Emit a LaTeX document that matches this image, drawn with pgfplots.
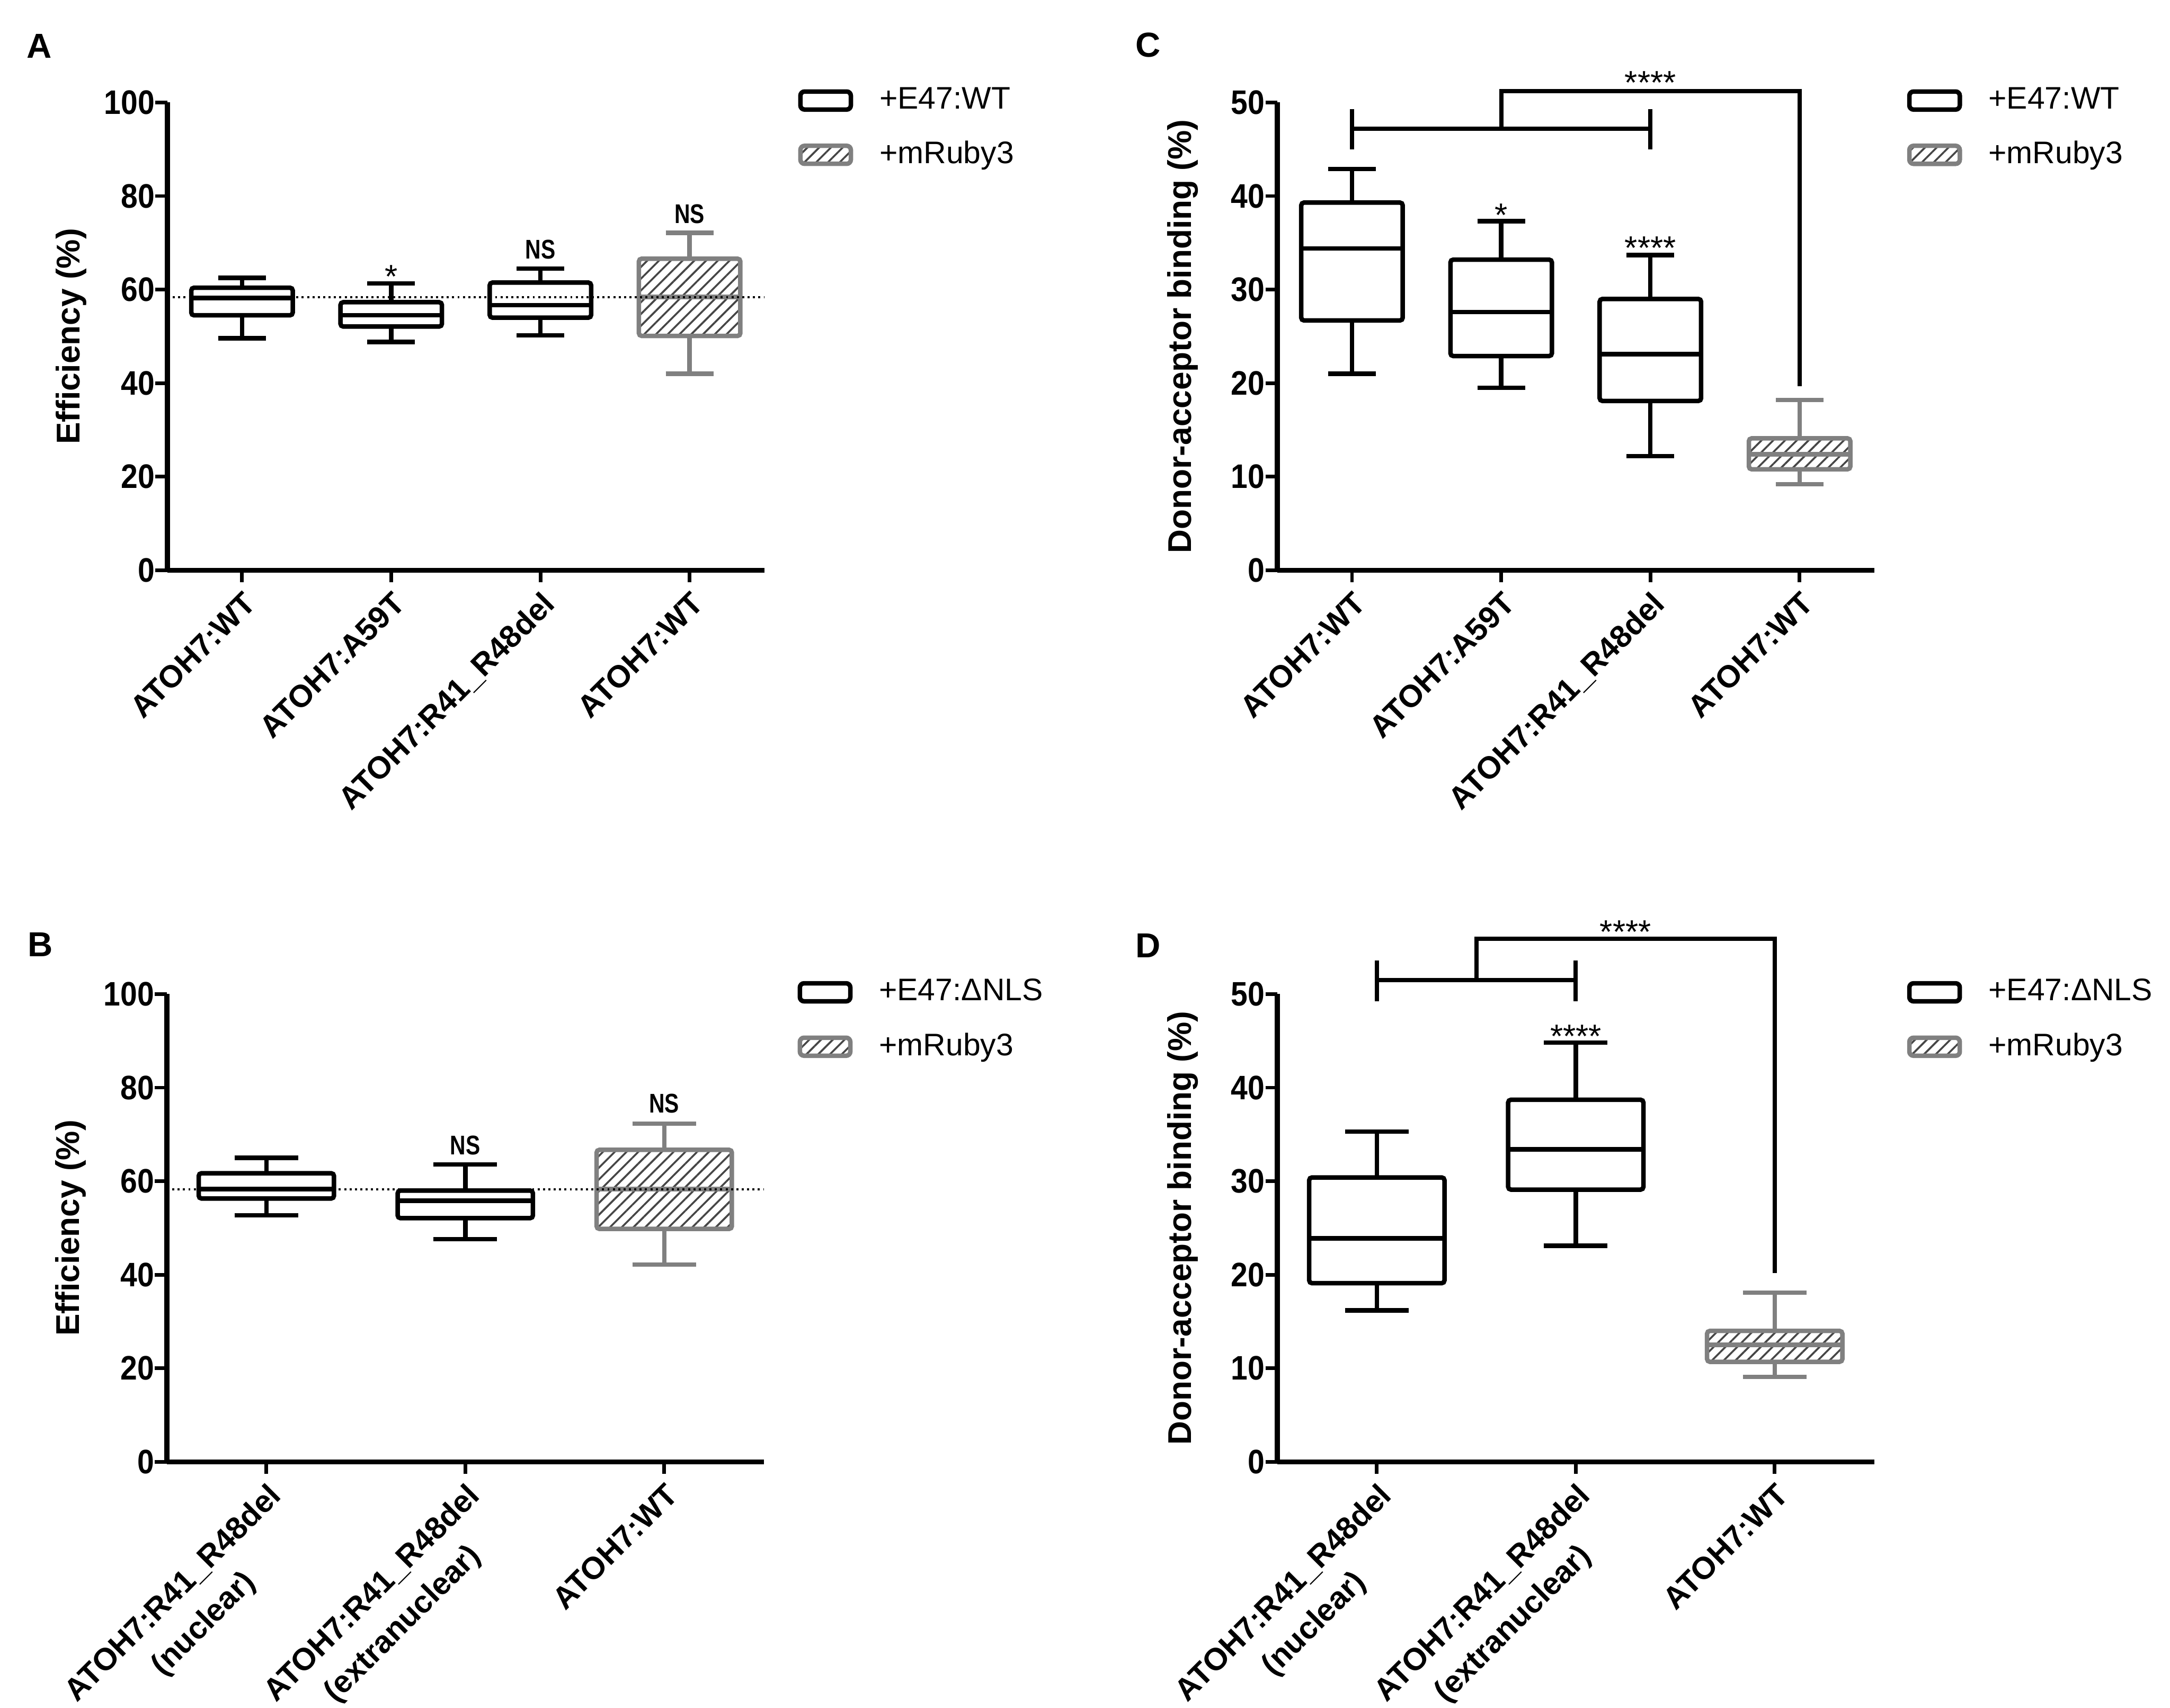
\documentclass[border=0pt]{standalone}
\usepackage{fontspec}
\setmainfont{Liberation Sans}
\newfontfamily\tickfont{Liberation Sans}[FakeStretch=0.89]
\newfontfamily\nsfont{Liberation Sans}[FakeStretch=0.8]
\usepackage{pgfplots}
\pgfplotsset{compat=1.18}
\usetikzlibrary{patterns.meta}
\definecolor{boxgray}{RGB}{128,128,128}
\definecolor{hatchgray}{RGB}{70,70,70}
\tikzset{hatch/.style={pattern={Lines[angle=45,distance=2.4pt,line width=0.55pt]}, pattern color=hatchgray}}
\pgfplotsset{
  panel/.style={
    scale only axis, width=172.2pt, height=135pt,
    axis x line*=bottom, axis y line*=left,
    axis line style={line width=1.5pt, black},
    tick style={black, line width=1.05pt},
    major tick length=3.45pt,
    tick align=outside,
    clip=false,
    /pgf/number format/assume math mode=true,
    yticklabel style={font=\tickfont\bfseries\fontsize{9.8}{11}\selectfont, inner sep=0pt, anchor=east},
    xticklabel style={font=\bfseries\fontsize{9}{12.3}\selectfont, rotate=45, anchor=north east, inner sep=0pt, align=center},
    xticklabel shift=2pt,
    ymin=0,
    legend style={draw=none, fill=none, font=\fontsize{9}{11}\selectfont, anchor=north west, column sep=7.65pt, row sep=7.8pt, inner sep=0pt, nodes={inner sep=0pt}},
    legend cell align=left,
    ylabel style={font=\bfseries\fontsize{9.5}{11}\selectfont, anchor=center},
  },
  bx/.style={forget plot, black, line width=1.3pt, mark=none, solid},
  bxfill/.style={rounded corners=0.8pt},
  gx/.style={forget plot, boxgray, line width=1.3pt, mark=none, solid},
  gxfill/.style={rounded corners=0.8pt, hatch},
  blackleg/.style={legend image code/.code={\draw[black, line width=1.3pt, rounded corners=1.2pt] (0pt,-2.6pt) rectangle (14.55pt,2.6pt);}},
  grayleg/.style={legend image code/.code={\draw[boxgray, line width=1.3pt, rounded corners=1.2pt, hatch] (0pt,-2.6pt) rectangle (14.55pt,2.6pt);}},
  refline/.style={forget plot, black, line width=0.6pt, dash pattern=on 0.6pt off 0.95pt},
}
% box-and-whisker from plain numbers: #1 style, #2 category index, #3 lower whisker, #4 Q1, #5 median, #6 Q3, #7 upper whisker
\newcommand{\boxat}[7]{%
  \ifcase#2\relax
    \def\bxC{0}\def\bxL{-0.34}\def\bxR{0.34}\def\bcL{-0.16}\def\bcR{0.16}%
  \or \def\bxC{1}\def\bxL{0.66}\def\bxR{1.34}\def\bcL{0.84}\def\bcR{1.16}%
  \or \def\bxC{2}\def\bxL{1.66}\def\bxR{2.34}\def\bcL{1.84}\def\bcR{2.16}%
  \or \def\bxC{3}\def\bxL{2.66}\def\bxR{3.34}\def\bcL{2.84}\def\bcR{3.16}%
  \fi
  \edef\bxdoit{%
    \noexpand\addplot[#1, #1fill] coordinates {(\bxL,#4) (\bxR,#4) (\bxR,#6) (\bxL,#6)} -- cycle;
    \noexpand\addplot[#1] coordinates {(\bxL,#5) (\bxR,#5)};
    \noexpand\addplot[#1] coordinates {(\bxC,#6) (\bxC,#7)};
    \noexpand\addplot[#1] coordinates {(\bcL,#7) (\bcR,#7)};
    \noexpand\addplot[#1] coordinates {(\bxC,#4) (\bxC,#3)};
    \noexpand\addplot[#1] coordinates {(\bcL,#3) (\bcR,#3)};
  }\bxdoit}
\tikzset{
  ann/.style={anchor=base, inner sep=0pt, font=\fontsize{9.5}{10}\selectfont},
  ns/.style={anchor=center, inner sep=0pt, font=\nsfont\bfseries\fontsize{7.8}{9}\selectfont},
  brk/.style={line width=1.2pt, black},
  plabel/.style={font=\bfseries\fontsize{10}{12}\selectfont, inner sep=0pt},
}
\begin{document}
\begin{tikzpicture}
\path[use as bounding box] (0,0) rectangle (626.1pt,-492.75pt);
\node[plabel] at (11.4pt,-13.35pt) {A};
\node[plabel] at (331.2pt,-13.05pt) {C};
\node[plabel] at (11.7pt,-272.55pt) {B};
\node[plabel] at (331.2pt,-272.85pt) {D};

% ---------------- Panel A ----------------
\begin{axis}[panel, at={(48.3pt,-164.55pt)}, anchor=south west,
  xmin=-0.5, xmax=3.5, ymax=100, ytick={0,20,40,60,80,100},
  xtick={0,1,2,3}, xticklabels={ATOH7:WT, ATOH7:A59T, ATOH7:R41\_R48del, ATOH7:WT},
  ylabel={Efficiency (\%)}, ylabel style={at={(axis description cs:-0.1611,0.5)}},
  legend style={at={(axis description cs:1.0557,1.034)}}]
\addlegendimage{blackleg}\addlegendentry{+E47:WT}
\addlegendimage{grayleg}\addlegendentry{+mRuby3}
\boxat{bx}{0}{49.6}{54.5}{58.2}{60.4}{62.5}
\boxat{bx}{1}{48.8}{52.1}{54.5}{57.3}{61.3}
\boxat{bx}{2}{50.2}{54.0}{56.7}{61.5}{64.5}
\boxat{gx}{3}{42.0}{50.1}{58.4}{66.6}{72.1}
\addplot[refline] coordinates {(-0.5,58.4) (3.5,58.4)};
\node[ann] at (axis cs:1,60.3) {*};
\node[ns] at (axis cs:2,68.6) {NS};
\node[ns] at (axis cs:3,76.1) {NS};
\end{axis}

% ---------------- Panel C ----------------
\begin{axis}[panel, at={(368.55pt,-164.55pt)}, anchor=south west,
  xmin=-0.5, xmax=3.5, ymax=50, ytick={0,10,20,30,40,50},
  xtick={0,1,2,3}, xticklabels={ATOH7:WT, ATOH7:A59T, ATOH7:R41\_R48del, ATOH7:WT},
  ylabel={Donor-acceptor binding (\%)}, ylabel style={at={(axis description cs:-0.1585,0.5)}},
  legend style={at={(axis description cs:1.054,1.034)}}]
\addlegendimage{blackleg}\addlegendentry{+E47:WT}
\addlegendimage{grayleg}\addlegendentry{+mRuby3}
\boxat{bx}{0}{21.0}{26.7}{34.4}{39.3}{42.9}
\boxat{bx}{1}{19.5}{22.9}{27.6}{33.2}{37.3}
\boxat{bx}{2}{12.2}{18.1}{23.1}{29.0}{33.7}
\boxat{gx}{3}{9.2}{10.8}{12.4}{14.1}{18.2}
\node[ann] at (axis cs:1,36.75) {*};
\node[ann] at (axis cs:2,33.25) {****};
\node[ann] at (axis cs:2,50.88) {****};
\draw[brk] (axis cs:0,45.0) -- (axis cs:0,49.3);
\draw[brk] (axis cs:2,45.0) -- (axis cs:2,49.3);
\draw[brk] (axis cs:0,47.2) -- (axis cs:2,47.2);
\draw[brk] (axis cs:1,47.2) -- (axis cs:1,51.2) -- (axis cs:3,51.2) -- (axis cs:3,19.7);
\end{axis}

% ---------------- Panel B ----------------
\begin{axis}[panel, at={(48.15pt,-421.8pt)}, anchor=south west,
  xmin=-0.5, xmax=2.5, ymax=100, ytick={0,20,40,60,80,100},
  xtick={0,1,2}, xticklabels={{ATOH7:R41\_R48del\\(nuclear)}, {ATOH7:R41\_R48del\\(extranuclear)}, ATOH7:WT},
  ylabel={Efficiency (\%)}, ylabel style={at={(axis description cs:-0.1611,0.5)}},
  legend style={at={(axis description cs:1.0557,1.034)}}]
\addlegendimage{blackleg}\addlegendentry{+E47:ΔNLS}
\addlegendimage{grayleg}\addlegendentry{+mRuby3}
\boxat{bx}{0}{52.7}{56.3}{58.3}{61.7}{65.0}
\boxat{bx}{1}{47.6}{52.1}{55.8}{58.0}{63.6}
\boxat{gx}{2}{42.2}{49.8}{58.3}{66.7}{72.3}
\addplot[refline] coordinates {(-0.5,58.3) (2.5,58.3)};
\node[ns] at (axis cs:1,67.7) {NS};
\node[ns] at (axis cs:2,76.6) {NS};
\end{axis}

% ---------------- Panel D ----------------
\begin{axis}[panel, at={(368.55pt,-421.8pt)}, anchor=south west,
  xmin=-0.5, xmax=2.5, ymax=50, ytick={0,10,20,30,40,50},
  xtick={0,1,2}, xticklabels={{ATOH7:R41\_R48del\\(nuclear)}, {ATOH7:R41\_R48del\\(extranuclear)}, ATOH7:WT},
  ylabel={Donor-acceptor binding (\%)}, ylabel style={at={(axis description cs:-0.1585,0.5)}},
  legend style={at={(axis description cs:1.054,1.034)}}]
\addlegendimage{blackleg}\addlegendentry{+E47:ΔNLS}
\addlegendimage{grayleg}\addlegendentry{+mRuby3}
\boxat{bx}{0}{16.2}{19.1}{23.9}{30.4}{35.3}
\boxat{bx}{1}{23.1}{29.1}{33.4}{38.7}{44.8}
\boxat{gx}{2}{9.1}{10.7}{12.5}{14.0}{18.1}
\node[ann] at (axis cs:1,44.3) {****};
\node[ann] at (axis cs:1.25,55.4) {****};
\draw[brk] (axis cs:0,49.25) -- (axis cs:0,53.6);
\draw[brk] (axis cs:1,49.25) -- (axis cs:1,53.6);
\draw[brk] (axis cs:0,51.5) -- (axis cs:1,51.5);
\draw[brk] (axis cs:0.5,51.5) -- (axis cs:0.5,55.9) -- (axis cs:2,55.9) -- (axis cs:2,20.2);
\end{axis}
\end{tikzpicture}
\end{document}
